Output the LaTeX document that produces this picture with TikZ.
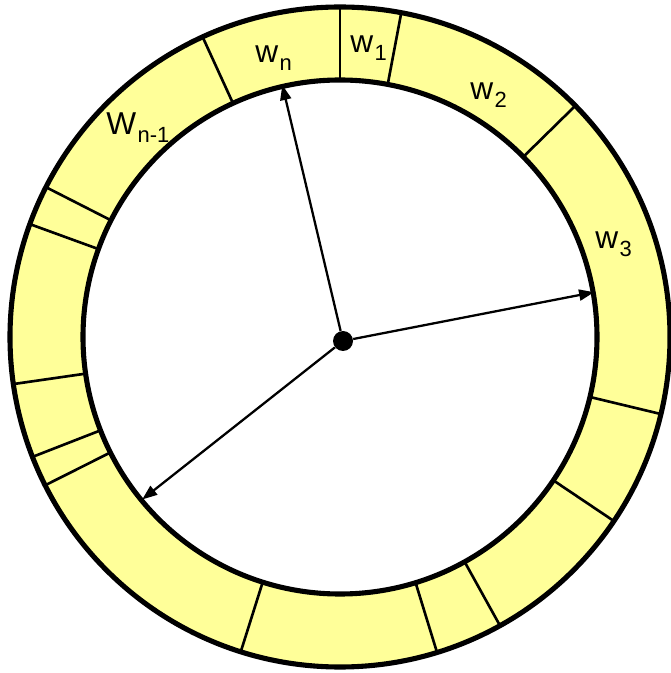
\documentclass[tikz,border=0pt]{standalone}
\usepackage{fontspec}
\setmainfont{Liberation Sans}
\usepackage{tikz}
\usetikzlibrary{arrows.meta, positioning}
\definecolor{ringfill}{RGB}{255,255,153}
\definecolor{ringdark}{RGB}{0,0,0}
\tikzset{
  ringline/.style={draw=ringdark, line width=2.9pt},
  divider/.style={draw=ringdark, line width=1.5pt},
  hubdot/.style={circle, fill=ringdark, inner sep=0pt, minimum size=0.4cm},
  wlabel/.style={anchor=base west, inner sep=0pt, font=\fontsize{18}{21}\selectfont},
  arrow/.style={-{Triangle[length=0.3cm, width=0.22cm]}, line width=1.3pt, color=ringdark}
}
\newcommand{\ringin}{5.14}
\newcommand{\ringout}{6.6}
\newcommand{\wsub}[2]{#1\kern0.8pt\raisebox{-4.5pt}{\fontsize{12.5}{14}\selectfont #2}}

\begin{document}
\begin{tikzpicture}
  \useasboundingbox (-6.8,-6.72) rectangle (6.6,6.74);
  % ring
  \fill[ringfill, even odd rule] (0,0) circle (\ringout) (0,0) circle (\ringin);
  \foreach \a in {90, 79.3, 44.5, 346.5, 326.1, 299, 287.1, 252.5,
                  206.7, 201.3, 188.2, 160, 153, 114.6}
    \draw[divider] (\a:\ringin) -- (\a:\ringout);
  \draw[ringline] (0,0) circle (\ringout);
  \draw[ringline] (0,0) circle (\ringin);
  % labels
  \node[wlabel] (wn)  at (-1.70,5.48) {\wsub{w}{n}};
  \node[wlabel] (w1)  at (0.20,5.68)  {\wsub{w}{1}};
  \node[wlabel] (w2)  at (2.60,4.74)  {\wsub{w}{2}};
  \node[wlabel] (w3)  at (5.10,1.76)  {\wsub{w}{3}};
  \node[wlabel] (wn1) at (-4.68,4.04) {\wsub{W}{n-1}};
  % hub and pointers
  \node[hubdot] (hub) at (0.06,-0.08) {};
  \coordinate (tipup)    at (102.9:5.17);
  \coordinate (tipright) at (10.0:5.16);
  \coordinate (tipleft)  at (219.4:5.12);
  \draw[arrow] (hub) -- (tipup);
  \draw[arrow] (hub) -- (tipright);
  \draw[arrow] (hub) -- (tipleft);
\end{tikzpicture}
\end{document}
